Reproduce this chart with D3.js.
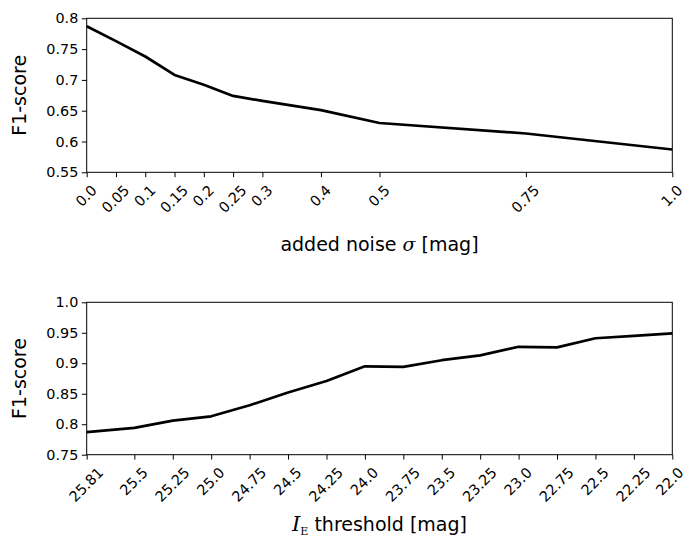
<!DOCTYPE html>
<html><head><meta charset="utf-8">
<script src="https://cdn.jsdelivr.net/npm/d3@7"></script>
<style>
body{margin:0;background:#fff;}
svg text{font-family:"DejaVu Sans",sans-serif;fill:#000;}
</style></head>
<body><svg id="c" width="686" height="540"></svg>
<script>
// ---- data ----
const noiseSigma = [0.0, 0.05, 0.1, 0.15, 0.2, 0.25, 0.3, 0.4, 0.5, 0.75, 1.0];
const noiseF1    = [0.787, 0.763, 0.738, 0.708, 0.692, 0.674, 0.666, 0.651, 0.630, 0.613, 0.587];
const noiseTickLabels = ["0.0","0.05","0.1","0.15","0.2","0.25","0.3","0.4","0.5","0.75","1.0"];
const noiseYTicks = [0.55, 0.6, 0.65, 0.7, 0.75, 0.8];
const noiseYTickLabels = ["0.55","0.6","0.65","0.7","0.75","0.8"];

const threshIE = [25.81, 25.5, 25.25, 25.0, 24.75, 24.5, 24.25, 24.0, 23.75, 23.5, 23.25, 23.0, 22.75, 22.5, 22.25, 22.0];
const threshF1 = [0.787, 0.794, 0.806, 0.813, 0.831, 0.852, 0.871, 0.895, 0.894, 0.905, 0.913, 0.927, 0.926, 0.941, 0.945, 0.949];
const threshTickLabels = ["25.81","25.5","25.25","25.0","24.75","24.5","24.25","24.0","23.75","23.5","23.25","23.0","22.75","22.5","22.25","22.0"];
const threshYTicks = [0.75, 0.8, 0.85, 0.9, 0.95, 1.0];
const threshYTickLabels = ["0.75","0.8","0.85","0.9","0.95","1.0"];

// ---- layout ----
const svg = d3.select("#c");
const W = 686;
const L = 86.7, R = 672.3;
const tickFont = 14.4;

function panel(cfg){
  const g = svg.append("g");
  const x = d3.scaleLinear().domain(cfg.xDomain).range([L, R]);
  const y = d3.scaleLinear().domain(cfg.yDomain).range([cfg.bottom, cfg.top]);
  // line
  g.append("path")
    .datum(cfg.xs.map((v,i)=>[v, cfg.ys[i]]))
    .attr("fill","none").attr("stroke","#000").attr("stroke-width",2.7)
    .attr("stroke-linejoin","round").attr("stroke-linecap","butt")
    .attr("d", d3.line().x(d=>x(d[0])).y(d=>y(d[1])));
  // frame
  g.append("rect").attr("x",L).attr("y",cfg.top).attr("width",R-L).attr("height",cfg.bottom-cfg.top)
    .attr("fill","none").attr("stroke","#000").attr("stroke-width",1);
  // y axis
  const ya = d3.axisLeft(y).tickValues(cfg.yTicks).tickSize(4.9).tickPadding(3.5)
    .tickFormat((d,i)=>cfg.yTickLabels[i]);
  const yg = g.append("g").attr("transform",`translate(${L},0)`).call(ya);
  yg.select(".domain").remove();
  yg.selectAll("line").attr("stroke","#000").attr("stroke-width",1);
  yg.selectAll("text").attr("font-size",tickFont).attr("font-family","DejaVu Sans");
  // x axis
  const xa = d3.axisBottom(x).tickValues(cfg.xs).tickSize(4.9).tickFormat("");
  const xg = g.append("g").attr("transform",`translate(0,${cfg.bottom})`).call(xa);
  xg.select(".domain").remove();
  xg.selectAll("line").attr("stroke","#000").attr("stroke-width",1);
  // rotated tick labels, centre aligned (matplotlib rotation=45, ha=center, va=top)
  xg.selectAll(".tick").each(function(d,i){
    const t = d3.select(this).append("text")
      .attr("font-size",tickFont).attr("text-anchor","middle")
      .attr("dominant-baseline","central")
      .text(cfg.xTickLabels[i]);
    const w = t.node().getComputedTextLength();
    const h = tickFont*0.78;
    const half = (w+h)/(2*Math.SQRT2);
    let dx = -1;
    const rightEdge = x(d) + dx + half;
    if (rightEdge > W - 1.5) dx -= rightEdge - (W - 1.5);
    t.attr("transform",`translate(${dx},${4.9+6.5+half}) rotate(-45)`);
  });
  // labels
  const cx = (L+R)/2;
  cfg.xLabel(g.append("text").attr("x",cx).attr("y",cfg.xLabelY).attr("text-anchor","middle").attr("font-size",19));
  g.append("text").attr("transform",`translate(${cfg.yLabelX},${(cfg.top+cfg.bottom)/2}) rotate(-90)`)
    .attr("text-anchor","middle").attr("font-size",19).text("F1-score");
}

panel({
  xDomain:[0,1], yDomain:[0.55,0.8], top:18.3, bottom:172.3,
  xs:noiseSigma, ys:noiseF1, xTickLabels:noiseTickLabels,
  yTicks:noiseYTicks, yTickLabels:noiseYTickLabels,
  xLabelY:251, yLabelX:26,
  xLabel: t=>{ t.append("tspan").text("added noise ");
               t.append("tspan").attr("font-family","DejaVu Serif").attr("font-style","italic").text("σ");
               t.append("tspan").text(" [mag]"); }
});
panel({
  xDomain:[25.81,22.0], yDomain:[0.75,1.0], top:302.3, bottom:454.7,
  xs:threshIE, ys:threshF1, xTickLabels:threshTickLabels,
  yTicks:threshYTicks, yTickLabels:threshYTickLabels,
  xLabelY:531, yLabelX:26,
  xLabel: t=>{ t.append("tspan").attr("font-family","DejaVu Serif").attr("font-style","italic").attr("font-size",21).text("I");
               t.append("tspan").attr("font-family","DejaVu Serif").attr("font-size",11).attr("dy",4).text("E");
               t.append("tspan").attr("dy",-4).text(" threshold [mag]"); }
});
</script></body></html>
